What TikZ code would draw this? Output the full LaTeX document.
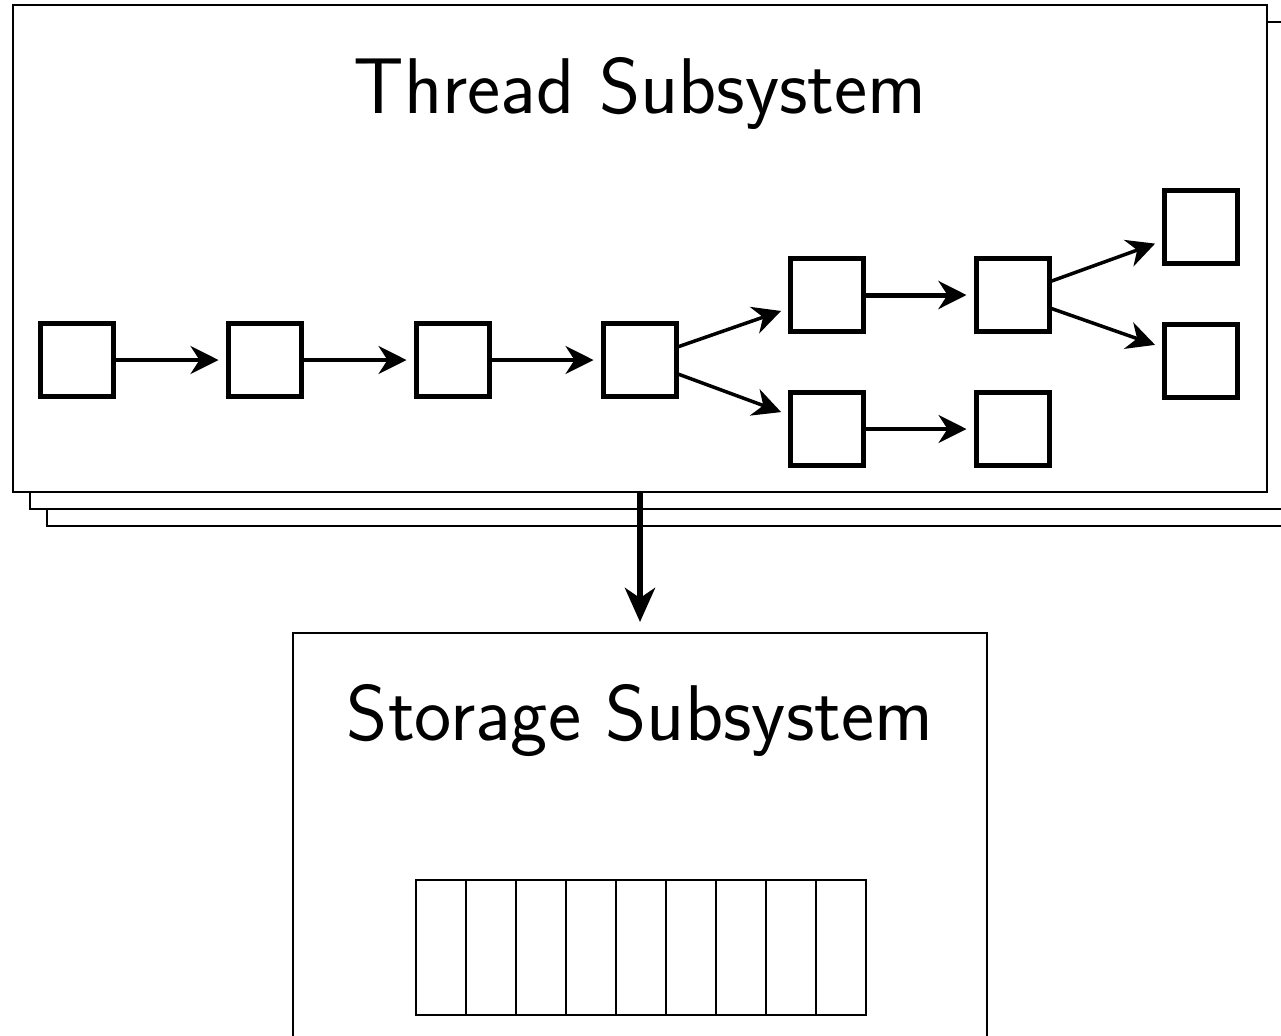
\documentclass[tikz,border=0pt]{standalone}
\usetikzlibrary{arrows.meta}
\begin{document}
\begin{tikzpicture}[x=0.5pt,y=-0.5pt,
  frame/.style={draw, line width=1pt, fill=white, inner sep=0pt, outer sep=0pt, anchor=north west},
  cell/.style={draw, line width=2.5pt, minimum size=36.5pt, inner sep=0pt, outer sep=0pt},
  slot/.style={draw, line width=1pt, minimum width=25pt, minimum height=67.5pt, inner sep=0pt, outer sep=0pt},
  link/.style={-{Stealth[length=14pt,width=14pt,inset=4.5pt]}, line width=1.75pt, shorten >=5pt},
  biglink/.style={-{Stealth[length=17pt,width=15pt,inset=5pt]}, line width=3pt, shorten >=5.5pt},
  title/.style={font=\fontsize{39.5}{46}\selectfont\sffamily, anchor=base, inner sep=0pt}
]
\useasboundingbox (0,0) rectangle (1281,1035);
\clip (0,0) rectangle (1281,1035);

% stacked thread frames, back to front
\node[frame, minimum width=626.5pt, minimum height=243.5pt] (back2) at (47,39) {};
\node[frame, minimum width=626.5pt, minimum height=243.5pt] (back1) at (30,22) {};
\node[frame, minimum width=627pt, minimum height=243.5pt] (thread) at (13,5) {};
\node[title] (ttitle) at (640,113) {Thread Subsystem};

% thread states
\node[cell] (n1) at (77,360) {};
\node[cell] (n2) at (265,360) {};
\node[cell] (n3) at (453,360) {};
\node[cell] (n4) at (640,360) {};
\node[cell] (u1) at (827,295) {};
\node[cell] (u2) at (1013,295) {};
\node[cell] (l1) at (827,429) {};
\node[cell] (l2) at (1013,429) {};
\node[cell] (r1) at (1201,227) {};
\node[cell] (r2) at (1201,361) {};

\draw[link] (n1) -- (n2);
\draw[link] (n2) -- (n3);
\draw[link] (n3) -- (n4);
\draw[link] (n4) -- (u1);
\draw[link] (n4) -- (l1);
\draw[link, line width=2.5pt] (u1) -- (u2);
\draw[link] (l1) -- (l2);
\draw[link] (u2) -- (r1);
\draw[link] (u2) -- (r2);

% storage subsystem
\node[frame, minimum width=347pt, minimum height=250pt] (storage) at (293,633) {};
\node[title] (stitle) at (640,740) {Storage Subsystem};
\foreach \i in {1,...,9}{
  \node[slot] (s\i) at ({416+50*\i-25},947.5) {};
}

\draw[biglink] (thread.south) -- (storage.north);
\end{tikzpicture}
\end{document}
